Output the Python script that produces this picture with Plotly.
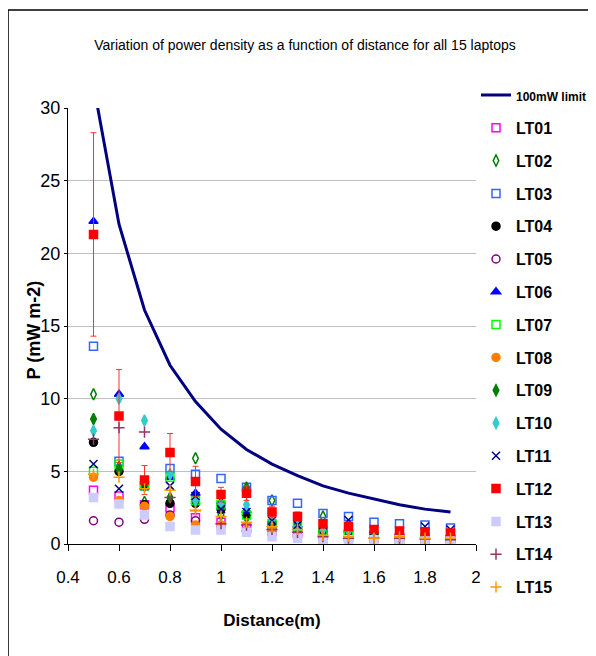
import plotly.graph_objects as go

distance = [0.5, 0.6, 0.7, 0.8, 0.9, 1.0, 1.1, 1.2, 1.3, 1.4, 1.5, 1.6, 1.7, 1.8, 1.9]
limit_100mW = [31.6, 22.0, 16.1, 12.3, 9.8, 7.9, 6.5, 5.5, 4.7, 4.0, 3.5, 3.1, 2.7, 2.4, 2.2]

LT01 = [3.7, 3.3, 2.7, 2.5, 1.8, 1.5, 1.1, 0.9, 0.7, 0.6, 0.5, 0.4, 0.35, 0.3, 0.25]
LT02 = [10.3, 5.3, 2.9, 3.0, 5.9, 2.0, 1.8, 3.0, 1.4, 1.9, 1.0, 0.8, 0.6, 0.5, 0.5]
LT03 = [13.6, 5.7, 4.0, 5.2, 4.8, 4.5, 3.9, 3.0, 2.8, 2.1, 1.9, 1.5, 1.4, 1.3, 1.1]
LT04 = [7.0, 5.0, 2.7, 2.8, 2.8, 2.4, 2.0, 1.4, 1.1, 0.9, 0.8, 0.7, 0.6, 0.6, 0.5]
LT05 = [1.6, 1.5, 1.7, 2.0, 1.6, 1.2, 0.9, 0.7, 0.6, 0.5, 0.4, 0.3, 0.3, 0.3, 0.2]
LT06 = [22.2, 10.3, 6.7, 4.6, 3.5, 2.9, 2.3, 1.6, 1.3, 1.0, 1.0, 0.9, 0.8, 0.8, 0.7]
LT07 = [5.0, 5.5, 4.0, 4.6, 3.0, 2.7, 2.0, 1.4, 1.2, 0.9, 0.7, 0.5, 0.3, 0.5, 0.4]
LT08 = [4.6, 3.0, 2.6, 1.9, 1.3, 1.3, 0.9, 0.8, 0.5, 0.1, 0.2, 0.3, 0.0, 0.2, 0.1]
LT09 = [8.6, 5.1, 4.0, 3.2, 2.9, 2.5, 3.9, 1.5, 1.3, 1.1, 0.9, 0.8, 0.7, 0.6, 0.6]
LT10 = [7.8, 10.0, 8.5, 4.8, 3.0, 2.7, 2.7, 1.7, 1.2, 1.0, 0.9, 0.7, 0.6, 0.6, 0.5]
LT11 = [5.5, 3.8, 4.0, 4.0, 3.3, 2.4, 2.2, 1.6, 1.3, 1.3, 1.65, 0.9, 0.8, 1.2, 1.0]
LT12 = [21.3, 8.8, 4.4, 6.3, 4.3, 3.4, 3.5, 2.2, 1.9, 1.4, 1.2, 1.0, 0.9, 0.85, 0.75]
LT12_err = [7.0, 3.2, 1.0, 1.3, 1.05, 0.5, 0.5, 0.4, 0.3, 0.3, 0.3, 0.2, 0.2, 0.2, 0.2]
LT13 = [3.2, 2.75, 2.0, 1.2, 0.96, 0.96, 0.8, 0.5, 0.4, 0.3, 0.3, 0.3, 0.3, 0.2, 0.2]
LT14 = [7.2, 8.0, 7.7, 3.2, 2.3, 1.4, 1.3, 1.0, 0.8, 0.5, 0.4, 0.4, 0.4, 0.35, 0.3]
LT15 = [4.8, 4.6, 3.8, 3.7, 2.3, 1.9, 1.5, 1.2, 1.0, 0.6, 0.5, 0.4, 0.5, 0.4, 0.4]

x_ticks = [0.4, 0.6, 0.8, 1.0, 1.2, 1.4, 1.6, 1.8, 2.0]
x_tick_labels = ["0.4", "0.6", "0.8", "1", "1.2", "1.4", "1.6", "1.8", "2"]
y_ticks = [0, 5, 10, 15, 20, 25, 30]

series = [
    ("LT01", LT01, "square-open", "#FF00FF"),
    ("LT02", LT02, "diamond-tall-open", "#008000"),
    ("LT03", LT03, "square-open", "#3366FF"),
    ("LT04", LT04, "circle", "#000000"),
    ("LT05", LT05, "circle-open", "#800080"),
    ("LT06", LT06, "triangle-up", "#0000FF"),
    ("LT07", LT07, "square-open", "#00FF00"),
    ("LT08", LT08, "circle", "#FF8000"),
    ("LT09", LT09, "diamond-tall", "#008000"),
    ("LT10", LT10, "diamond-tall", "#33CCCC"),
    ("LT11", LT11, "x-thin-open", "#000080"),
    ("LT12", LT12, "square", "#FF0000"),
    ("LT13", LT13, "square", "#CCCCFF"),
    ("LT14", LT14, "cross-thin-open", "#993366"),
    ("LT15", LT15, "cross-thin-open", "#FF9900"),
]

FONT = "Liberation Sans Narrow, Arial Narrow, Liberation Sans, Arial, sans-serif"

fig = go.Figure()
fig.add_trace(go.Scatter(
    x=distance, y=limit_100mW, mode="lines",
    name="<span style='font-size:12px'><b>100mW limit</b></span>",
    line=dict(color="#000080", width=3), legendgroup="lim",
))
for name, vals, sym, col in series:
    kw = {}
    if name == "LT12":
        kw["error_y"] = dict(type="data", array=LT12_err, visible=True,
                             color="#FF3333", thickness=1, width=3)
    fig.add_trace(go.Scatter(
        x=distance, y=vals, mode="markers", name="<b>" + name + "</b>",
        legendgroup=name,
        marker=dict(symbol=sym, color=col, size=8,
                    line=dict(color=col, width=1.5)),
        **kw,
    ))

# page body adds an 8px offset, so the figure is 588x648 inside the 596x656 window
fig.update_layout(
    width=588, height=648,
    margin=dict(l=60, r=120, t=100, b=112, autoexpand=False),
    paper_bgcolor="white", plot_bgcolor="white",
    font=dict(family=FONT, color="black"),
    title=dict(text="Variation of power density as a function of distance for all 15 laptops",
               x=0.505, xanchor="center", xref="container", y=0.943, yanchor="middle",
               yref="container",
               font=dict(size=14, family=FONT, color="black")),
    showlegend=True,
    legend=dict(x=1.0, xanchor="left", y=1.0686, yanchor="top",
                font=dict(size=16, family=FONT, color="black"),
                tracegroupgap=9, itemwidth=30, bgcolor="rgba(0,0,0,0)",
                maxheight=640),
    xaxis=dict(range=[0.4, 2.0], tickvals=x_ticks, ticktext=x_tick_labels,
               showgrid=False, zeroline=False, showline=True, linecolor="black",
               linewidth=1, ticks="outside", ticklen=6, tickcolor="black",
               ticklabelstandoff=12,
               tickfont=dict(size=17, family=FONT, color="black"),
               title=dict(text="<b>Distance(m)</b>", font=dict(size=17, family=FONT), standoff=27)),
    yaxis=dict(range=[0, 30], tickvals=y_ticks, showgrid=True, gridcolor="#C0C0C0",
               zeroline=False, showline=True, linecolor="black", linewidth=1,
               ticks="outside", ticklen=3, tickcolor="black",
               tickfont=dict(size=18, family=FONT, color="black")),
)
fig.update_xaxes(tickprefix="<b>", ticksuffix="</b>")
fig.update_yaxes(tickprefix="<b>", ticksuffix="</b>")

fig.add_annotation(text="<b>P (mW m-2)</b>", xref="paper", yref="paper",
                   x=-0.083, y=0.49, xanchor="center", yanchor="middle",
                   textangle=-90, showarrow=False,
                   font=dict(size=18, family=FONT, color="black"))

# outer chart frame (extends past the right and bottom edges)
fig.add_shape(type="line", xref="paper", yref="paper", x0=-0.147, x1=1.35, y0=1.2248, y1=1.2248,
              line=dict(color="black", width=1.5))
fig.add_shape(type="line", xref="paper", yref="paper", x0=-0.147, x1=-0.147, y0=1.2248, y1=-0.3,
              line=dict(color="black", width=1.5))

fig.write_html("out.html")
